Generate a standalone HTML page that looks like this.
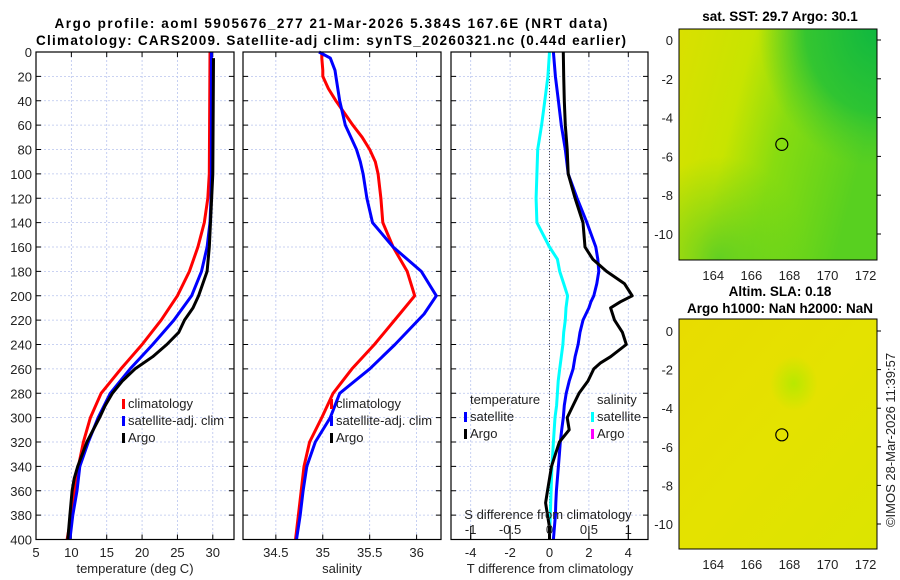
<!DOCTYPE html>
<html><head><meta charset="utf-8"><style>
body{margin:0;background:#fff;}
svg{display:block;font-family:"Liberation Sans","DejaVu Sans",sans-serif;}
</style></head><body>
<svg id="fig" width="900" height="580" viewBox="0 0 900 580" xmlns="http://www.w3.org/2000/svg">
<defs>
<linearGradient id="sstBase" x1="0" y1="0" x2="1" y2="0.3">
<stop offset="0" stop-color="#dae000"/><stop offset="0.35" stop-color="#c8e400"/><stop offset="0.6" stop-color="#88dc10"/><stop offset="1" stop-color="#58d020"/>
</linearGradient>
<radialGradient id="sstDark" cx="1" cy="0" r="0.6">
<stop offset="0" stop-color="#10b840" stop-opacity="1"/><stop offset="0.6" stop-color="#20c038" stop-opacity="0.8"/><stop offset="1" stop-color="#40c830" stop-opacity="0"/>
</radialGradient>
<radialGradient id="sstBL" cx="0.2" cy="1" r="0.45">
<stop offset="0" stop-color="#50cc28" stop-opacity="0.8"/><stop offset="1" stop-color="#60d020" stop-opacity="0"/>
</radialGradient>
<linearGradient id="slaBase" x1="0" y1="0" x2="1" y2="1">
<stop offset="0" stop-color="#e8dc00"/><stop offset="0.5" stop-color="#e4e200"/><stop offset="1" stop-color="#dce400"/>
</linearGradient>
<radialGradient id="slaGreen" cx="0.58" cy="0.28" r="0.12">
<stop offset="0" stop-color="#b8e800"/><stop offset="1" stop-color="#b8e800" stop-opacity="0"/>
</radialGradient>
</defs>
<g id="root"></g>
</svg>
<script>
// ---- data ----
const depthTemp = [0,100,120,140,160,180,200,220,240,260,280,300,320,340,360,380,400];
const tempClim  = [29.6,29.5,29.3,28.8,27.9,26.7,25.0,22.7,20.0,17.0,14.2,12.7,11.7,11.0,10.4,10.0,9.4];
const tempSat   = [29.8,29.8,29.75,29.6,29.2,28.4,27.0,24.5,21.5,18.3,15.5,13.8,12.4,11.2,10.8,10.2,9.8];
const depthArgo = [5,100,160,180,200,210,220,230,240,250,260,270,280,290,300,320,340,350,360,380,400];
const tempArgo  = [30.1,30.0,29.5,29.2,28.0,27.2,26.0,25.2,23.5,21.5,19.0,17.2,15.8,14.8,14.0,12.2,10.9,10.4,10.1,9.8,9.5];

const depthSal = [0,5,15,20,30,40,50,60,70,80,90,100,120,140,160,180,200,215,240,260,280,300,320,340,360,380,400];
const salClim  = [34.99,34.99,35.0,35.0,35.06,35.14,35.23,35.32,35.42,35.5,35.56,35.59,35.62,35.64,35.75,35.9,35.98,35.82,35.55,35.31,35.11,34.99,34.86,34.8,34.77,34.74,34.71];
const salSat   = [34.96,35.08,35.13,35.14,35.16,35.18,35.21,35.24,35.3,35.36,35.4,35.43,35.47,35.53,35.75,36.05,36.21,36.08,35.77,35.5,35.18,35.08,34.92,34.83,34.79,34.76,34.72];

const depthDiff = [0,20,40,60,80,100,120,140,160,170,180,190,200,205,210,220,230,240,250,255,260,270,280,290,300,310,320,330,340,350,360,370,380,390,400];
const dTempSat  = [0.2,0.3,0.45,0.6,0.8,0.95,1.4,1.9,2.35,2.45,2.5,2.4,2.25,2.1,2.0,1.7,1.55,1.45,1.3,1.25,1.2,1.0,0.85,0.75,0.7,0.62,0.55,0.5,0.45,0.4,0.35,0.32,0.3,0.25,0.2];
const dSalSat   = [0,-0.02,-0.06,-0.1,-0.15,-0.16,-0.17,-0.16,0,0.1,0.13,0.18,0.23,0.22,0.21,0.2,0.18,0.17,0.15,0.14,0.13,0.11,0.1,0.09,0.07,0.06,0.05,0.04,0.03,0.025,0.02,0.015,0.01,0.005,0];
const dTempArgo = [0.7,0.72,0.75,0.8,0.9,0.95,1.3,1.7,1.8,2.2,2.9,3.8,4.2,3.6,3.1,3.3,3.7,3.9,3.1,2.6,2.25,1.95,1.5,1.2,0.9,1.0,0.5,0.3,0.1,0,-0.1,-0.2,-0.1,0,0];

const tTicks = [5,10,15,20,25,30];
const sTicks = [34.5,35,35.5,36];
const dTicks = [-4,-2,0,2,4];
const dsTicks = [-1,-0.5,0,0.5,1];
const depthTicks = [0,20,40,60,80,100,120,140,160,180,200,220,240,260,280,300,320,340,360,380,400];
const lonTicks = [164,166,168,170,172];
const latTicks = [0,-2,-4,-6,-8,-10];

// ---- scales ----
const TOP=52, BOT=539.5;
const yD = d => TOP + d*(BOT-TOP)/400;
const P1={l:36,r:234}, P2={l:243,r:441}, P3={l:451,r:648};
const xT = v => P1.l + (v-5)*(P1.r-P1.l)/28;
const xS = v => P2.l + (v-34.15)*(P2.r-P2.l)/2.11;
const xDT = v => (P3.l+P3.r)/2 + v*(P3.r-P3.l)/10;
const xDS = v => (P3.l+P3.r)/2 + v*(P3.r-P3.l)/2.5;

const NS="http://www.w3.org/2000/svg";
const root=document.getElementById('root');
function mk(tag,attrs,parent){const e=document.createElementNS(NS,tag);for(const k in attrs)e.setAttribute(k,attrs[k]);(parent||root).appendChild(e);return e;}
function txt(x,y,s,opt,parent){const e=mk('text',Object.assign({x:x,y:y,'font-size':13,fill:'#222'},opt||{}),parent);e.textContent=s;return e;}

function panel(P,name){
  const g=mk('g',{});
  
  
  return g;
}
function grid(g,P,xs,xf){
  xs.forEach(v=>mk('line',{x1:xf(v),x2:xf(v),y1:TOP,y2:BOT,stroke:'#b8c4ee','stroke-width':0.8,'stroke-dasharray':'2,2'},g));
  depthTicks.forEach(d=>{
    mk('line',{x1:P.l,x2:P.r,y1:yD(d),y2:yD(d),stroke:'#b8c4ee','stroke-width':0.8,'stroke-dasharray':'2,2'},g);
    mk('line',{x1:P.l,x2:P.l+5,y1:yD(d),y2:yD(d),stroke:'#000'},g);
    mk('line',{x1:P.r-5,x2:P.r,y1:yD(d),y2:yD(d),stroke:'#000'},g);
  });
  xs.forEach(v=>{mk('line',{x1:xf(v),x2:xf(v),y1:BOT-5,y2:BOT,stroke:'#000'},g);mk('line',{x1:xf(v),x2:xf(v),y1:TOP,y2:TOP+5,stroke:'#000'},g);});
}
function frame(g,P){mk('rect',{x:P.l,y:TOP,width:P.r-P.l,height:BOT-TOP,fill:'none',stroke:'#000','stroke-width':1.2},g);}
function line(g,xs,ds,xf,color,name){
  const pts=xs.map((v,i)=>xf(v).toFixed(1)+','+yD(ds[i]).toFixed(1)).join(' ');
  const p=mk('polyline',{points:pts,fill:'none',stroke:color,'stroke-width':3,'stroke-linejoin':'round'},g);
  
  
}
function legEntry(g,x,y,color,label){
  mk('rect',{x:x,y:y-9,width:3,height:10,fill:color},g);
  txt(x+6,y,label,{},g);
}

// titles
const t1=txt(331,28,'Argo profile: aoml 5905676_277 21-Mar-2026 5.384S 167.6E (NRT data)',{'text-anchor':'middle','font-weight':'bold','font-size':13.5,fill:'#000',textLength:553});


const t2=txt(331,45,'Climatology: CARS2009. Satellite-adj clim: synTS_20260321.nc (0.44d earlier)',{'text-anchor':'middle','font-weight':'bold','font-size':13.5,fill:'#000',textLength:590});



// Panel 1 temperature
const g1=panel(P1,'temperature-panel');
grid(g1,P1,tTicks,xT);
depthTicks.forEach(d=>txt(P1.l-4,yD(d)+5,String(d),{'text-anchor':'end'},g1));
tTicks.forEach(v=>txt(xT(v),557,String(v),{'text-anchor':'middle'},g1));
txt(135,573,'temperature (deg C)',{'text-anchor':'middle'},g1);
line(g1,tempClim,depthTemp,xT,'#ff0000','temp-climatology-line');
line(g1,tempSat,depthTemp,xT,'#0000ff','temp-satellite-line');
line(g1,tempArgo,depthArgo,xT,'#000000','temp-argo-line');
legEntry(g1,122,408,'#ff0000','climatology');
legEntry(g1,122,425,'#0000ff','satellite-adj. clim');
legEntry(g1,122,442,'#000000','Argo');
frame(g1,P1);

// Panel 2 salinity
const g2=panel(P2,'salinity-panel');
grid(g2,P2,sTicks,xS);
sTicks.forEach(v=>txt(xS(v),557,String(v),{'text-anchor':'middle'},g2));
txt(342,573,'salinity',{'text-anchor':'middle'},g2);
line(g2,salClim,depthSal,xS,'#ff0000','sal-climatology-line');
line(g2,salSat,depthSal,xS,'#0000ff','sal-satellite-line');
legEntry(g2,330,408,'#ff0000','climatology');
legEntry(g2,330,425,'#0000ff','satellite-adj. clim');
legEntry(g2,330,442,'#000000','Argo');
frame(g2,P2);

// Panel 3 differences
const g3=panel(P3,'difference-panel');
grid(g3,P3,dTicks,xDT);
mk('line',{x1:xDT(0),x2:xDT(0),y1:TOP,y2:BOT,stroke:'#444','stroke-width':1,'stroke-dasharray':'1,2'},g3);
line(g3,dSalSat,depthDiff,xDS,'#00ffff','sal-diff-satellite-line');
line(g3,dTempSat,depthDiff,xDT,'#0000ff','temp-diff-satellite-line');
line(g3,dTempArgo,depthDiff,xDT,'#000000','temp-diff-argo-line');
dTicks.forEach(v=>txt(xDT(v),557,String(v),{'text-anchor':'middle'},g3));
txt(550,573,'T difference from climatology',{'text-anchor':'middle'},g3);
txt(548,519,'S difference from climatology',{'text-anchor':'middle'},g3);
dsTicks.forEach(v=>{txt(xDS(v),534,String(v),{'text-anchor':'middle'},g3);mk('line',{x1:xDS(v),x2:xDS(v),y1:526,y2:540,stroke:'#000'},g3);});
txt(470,404,'temperature',{},g3);
txt(597,404,'salinity',{},g3);
legEntry(g3,464,421,'#0000ff','satellite');
legEntry(g3,464,438,'#000000','Argo');
legEntry(g3,591,421,'#00ffff','satellite');
legEntry(g3,591,438,'#ff00ff','Argo');
frame(g3,P3);

// Maps
const M={l:679,r:877};
const lonX = v => M.l + (v-162.2)*(M.r-M.l)/10.4;
function mapPanel(top,bot,lat0y,lat10y,fills,name,title1,title2){
  const g=mk('g',{});
  
  
  fills.forEach(f=>mk('rect',{x:M.l,y:top,width:M.r-M.l,height:bot-top,fill:f},g));
  const latY=v=>lat0y+(-v)*(lat10y-lat0y)/10;
  mk('circle',{cx:lonX(167.6),cy:latY(-5.38),r:6,fill:'none',stroke:'#000','stroke-width':1.2},g);
  mk('rect',{x:M.l,y:top,width:M.r-M.l,height:bot-top,fill:'none',stroke:'#000','stroke-width':1},g);
  latTicks.forEach(v=>{txt(673,latY(v)+5,String(v),{'text-anchor':'end'},g);mk('line',{x1:M.r,x2:M.r+4,y1:latY(v),y2:latY(v),stroke:'#000'},g);});
  lonTicks.forEach(v=>txt(lonX(v),bot+20,String(v),{'text-anchor':'middle'},g));
  txt(780,title1[1],title1[0],{'text-anchor':'middle','font-weight':'bold','font-size':13.5,fill:'#000'},g);
  if(title2) txt(780,title2[1],title2[0],{'text-anchor':'middle','font-weight':'bold','font-size':13.5,fill:'#000'},g);
}
mapPanel(29,260,40,234,['url(#sstBase)','url(#sstDark)','url(#sstBL)'],'sst-map',['sat. SST: 29.7 Argo: 30.1',21],null);
mapPanel(319,549,331,524,['url(#slaBase)','url(#slaGreen)'],'sla-map',['Altim. SLA: 0.18',296],['Argo h1000: NaN h2000: NaN',313]);

const cp=txt(0,0,'©IMOS 28-Mar-2026 11:39:57',{'text-anchor':'middle',transform:'translate(895,440) rotate(-90)'});


</script>
</body></html>
